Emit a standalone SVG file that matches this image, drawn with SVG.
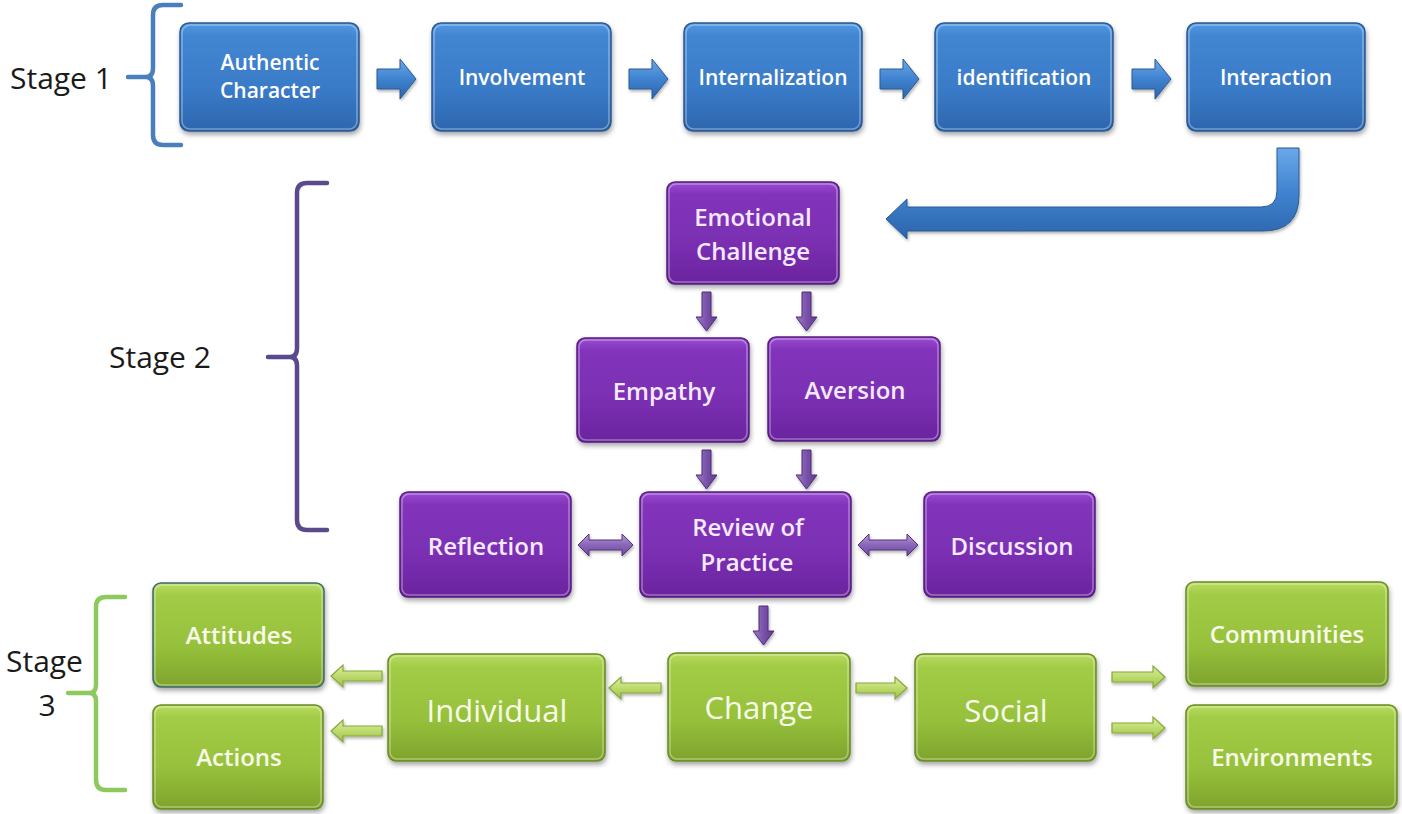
<svg xmlns="http://www.w3.org/2000/svg" width="1402" height="814" viewBox="0 0 1402 814">
<defs>
<linearGradient id="gBlue" x1="0" y1="0" x2="0" y2="1">
<stop offset="0" stop-color="#5398e0"/><stop offset="0.12" stop-color="#4286d2"/><stop offset="0.6" stop-color="#3a7bc8"/><stop offset="1" stop-color="#2d66ae"/>
</linearGradient>
<linearGradient id="gPurple" x1="0" y1="0" x2="0" y2="1">
<stop offset="0" stop-color="#9a4dd0"/><stop offset="0.12" stop-color="#8234bb"/><stop offset="0.6" stop-color="#7a2fb2"/><stop offset="1" stop-color="#6a249e"/>
</linearGradient>
<linearGradient id="gGreen" x1="0" y1="0" x2="0" y2="1">
<stop offset="0" stop-color="#b9dc62"/><stop offset="0.12" stop-color="#a2cc46"/><stop offset="0.6" stop-color="#97c13c"/><stop offset="1" stop-color="#7ea32c"/>
</linearGradient>
<linearGradient id="gBlueArr" x1="0" y1="0" x2="0" y2="1">
<stop offset="0" stop-color="#6aa8e8"/><stop offset="0.5" stop-color="#3f82cf"/><stop offset="1" stop-color="#2c64ab"/>
</linearGradient>
<linearGradient id="gPurArr" x1="0" y1="0" x2="0" y2="1">
<stop offset="0" stop-color="#b79ad9"/><stop offset="0.5" stop-color="#8a66b8"/><stop offset="1" stop-color="#6c4a9c"/>
</linearGradient>
<linearGradient id="gPurArrV" x1="0" y1="0" x2="1" y2="0">
<stop offset="0" stop-color="#9c7cc6"/><stop offset="0.5" stop-color="#7a52ab"/><stop offset="1" stop-color="#5e3c8c"/>
</linearGradient>
<linearGradient id="gGreenArr" x1="0" y1="0" x2="0" y2="1">
<stop offset="0" stop-color="#dbeea0"/><stop offset="0.5" stop-color="#bedb6e"/><stop offset="1" stop-color="#9cbf48"/>
</linearGradient>
<filter id="sh" x="-10%" y="-10%" width="130%" height="140%">
<feDropShadow dx="1" dy="3" stdDeviation="2.5" flood-color="#000" flood-opacity="0.35"/>
</filter>
<filter id="shs" x="-20%" y="-20%" width="140%" height="160%">
<feDropShadow dx="1" dy="2" stdDeviation="1.5" flood-color="#000" flood-opacity="0.3"/>
</filter>
</defs>
<style>
.blue{fill:url(#gBlue);stroke:#2a5a96;stroke-width:1.5;filter:url(#sh)}
.purple{fill:url(#gPurple);stroke:#561c80;stroke-width:1.5;filter:url(#sh)}
.green{fill:url(#gGreen);stroke:#6a8c24;stroke-width:1.5;filter:url(#sh)}
.hl{fill:none;stroke:#ffffff;stroke-opacity:0.35;stroke-width:1.5}
.tb{font-family:"Open Sans","Liberation Sans",sans-serif;font-weight:600;font-size:21px;fill:#ffffff;text-anchor:middle;dominant-baseline:central}
.tp{font-family:"Open Sans","Liberation Sans",sans-serif;font-weight:600;font-size:24px;fill:#f5e9ff;text-anchor:middle;dominant-baseline:central}
.tg{font-family:"Open Sans","Liberation Sans",sans-serif;font-weight:600;font-size:24px;fill:#f8fbea;text-anchor:middle;dominant-baseline:central}
.tgl{font-family:"Open Sans","Liberation Sans",sans-serif;font-weight:500;font-size:31px;fill:#f8fbea;text-anchor:middle;dominant-baseline:central}
.stage{font-family:"Open Sans","Liberation Sans",sans-serif;font-size:30px;fill:#1a1a1a;dominant-baseline:central}
.brk{fill:none;stroke-width:4.5;stroke-linecap:round;stroke-linejoin:round}
.ab{fill:url(#gBlueArr);stroke:#2a5a96;stroke-width:1;filter:url(#shs)}
.ap{fill:url(#gPurArr);stroke:#553080;stroke-width:1;filter:url(#shs)}
.apv{fill:url(#gPurArrV);stroke:#4e2c78;stroke-width:1;filter:url(#shs)}
.ag{fill:url(#gGreenArr);stroke:#86a83a;stroke-width:1.2;filter:url(#shs)}
</style>
<rect x="0" y="0" width="1402" height="814" fill="#ffffff"/>

<g id="stage-labels">
<text class="stage" x="10" y="77">Stage 1</text>
<text class="stage" x="109" y="356">Stage 2</text>
<text class="stage" x="6" y="660">Stage</text>
<text class="stage" x="47" y="704" text-anchor="middle">3</text>
<path class="brk" stroke="#4a7fbd" d="M181 5 H163 Q153 5 153 15 V68 Q153 77 146 77 H128 M146 77 Q153 77 153 86 V135 Q153 145 163 145 H181"/>
<path class="brk" stroke="#5a4a8c" d="M327 183 H307 Q297 183 297 193 V348 Q297 357 290 357 H268 M290 357 Q297 357 297 366 V520 Q297 530 307 530 H327"/>
<path class="brk" stroke="#8ec95e" d="M125 597 H106 Q96 597 96 607 V685 Q96 693 89 693 H68 M89 693 Q96 693 96 701 V780 Q96 790 106 790 H125"/>
</g>

<g id="connectors">
<path class="ab" d="M377 69 H400 V59 L416 79 L400 99 V89 H377 Z"/>
<path class="ab" d="M629 69 H652 V59 L668 79 L652 99 V89 H629 Z"/>
<path class="ab" d="M880 69 H903 V59 L919 79 L903 99 V89 H880 Z"/>
<path class="ab" d="M1132 69 H1155 V59 L1171 79 L1155 99 V89 H1132 Z"/>
<path class="ab" d="M1277 148 H1299 V195 Q1299 231 1263 231 H907 V239 L886 219 L907 199 V207 H1261 Q1277 207 1277 191 Z"/>
<path class="apv" d="M702 292 H711 V317 H717 L706.5 331 L696 317 H702 Z"/>
<path class="apv" d="M802 292 H811 V317 H817 L806.5 331 L796 317 H802 Z"/>
<path class="apv" d="M702 450 H711 V475 H717 L706.5 489 L696 475 H702 Z"/>
<path class="apv" d="M802 450 H811 V475 H817 L806.5 489 L796 475 H802 Z"/>
<path class="apv" d="M759 606 H768 V631 H774 L763.5 645 L753 631 H759 Z"/>
<path class="ap" d="M578 545 L589 534 V540 H622 V534 L633 545 L622 556 V550 H589 V556 Z"/>
<path class="ap" d="M858 545 L869 534 V540 H907 V534 L918 545 L907 556 V550 H869 V556 Z"/>
<path class="ag" d="M331 676 L343 665 V671 H382 V681 H343 V687 Z"/>
<path class="ag" d="M331 731 L343 720 V726 H382 V736 H343 V742 Z"/>
<path class="ag" d="M609 688 L621 677 V683 H661 V693 H621 V699 Z"/>
<path class="ag" d="M907 688 L895 677 V683 H856 V693 H895 V699 Z"/>
<path class="ag" d="M1165 677 L1153 666 V672 H1112 V682 H1153 V688 Z"/>
<path class="ag" d="M1165 728 L1153 717 V723 H1112 V733 H1153 V739 Z"/>
</g>

<g id="n-authentic"><rect class="blue" x="180" y="23" width="179" height="108" rx="9"/><rect class="hl" x="182" y="25" width="175" height="104" rx="8"/><text class="tb" x="270" y="62">Authentic</text><text class="tb" x="270" y="90">Character</text></g>
<g id="n-involvement"><rect class="blue" x="432" y="23" width="179" height="108" rx="9"/><rect class="hl" x="434" y="25" width="175" height="104" rx="8"/><text class="tb" x="522" y="77">Involvement</text></g>
<g id="n-internalization"><rect class="blue" x="684" y="23" width="178" height="108" rx="9"/><rect class="hl" x="686" y="25" width="174" height="104" rx="8"/><text class="tb" x="773" y="77">Internalization</text></g>
<g id="n-identification"><rect class="blue" x="935" y="23" width="178" height="108" rx="9"/><rect class="hl" x="937" y="25" width="174" height="104" rx="8"/><text class="tb" x="1024" y="77">identification</text></g>
<g id="n-interaction"><rect class="blue" x="1187" y="23" width="178" height="108" rx="9"/><rect class="hl" x="1189" y="25" width="174" height="104" rx="8"/><text class="tb" x="1276" y="77">Interaction</text></g>

<g id="n-emotional"><rect class="purple" x="667" y="182" width="172" height="102" rx="8"/><rect class="hl" x="669" y="184" width="168" height="98" rx="7"/><text class="tp" x="753" y="216">Emotional</text><text class="tp" x="753" y="250">Challenge</text></g>
<g id="n-empathy"><rect class="purple" x="577" y="338" width="172" height="104" rx="8"/><rect class="hl" x="579" y="340" width="168" height="100" rx="7"/><text class="tp" x="664" y="390">Empathy</text></g>
<g id="n-aversion"><rect class="purple" x="768" y="337" width="172" height="104" rx="8"/><rect class="hl" x="770" y="339" width="168" height="100" rx="7"/><text class="tp" x="855" y="389">Aversion</text></g>
<g id="n-reflection"><rect class="purple" x="400" y="492" width="171" height="105" rx="8"/><rect class="hl" x="402" y="494" width="167" height="101" rx="7"/><text class="tp" x="486" y="545">Reflection</text></g>
<g id="n-review"><rect class="purple" x="640" y="492" width="211" height="105" rx="8"/><rect class="hl" x="642" y="494" width="207" height="101" rx="7"/><text class="tp" x="748" y="526">Review of</text><text class="tp" x="747" y="561">Practice</text></g>
<g id="n-discussion"><rect class="purple" x="924" y="492" width="171" height="105" rx="8"/><rect class="hl" x="926" y="494" width="167" height="101" rx="7"/><text class="tp" x="1012" y="545">Discussion</text></g>

<g id="n-attitudes"><rect class="green" x="153" y="583" width="171" height="104" rx="8" style="stroke:#3d6a6a"/><rect class="hl" x="155" y="585" width="167" height="100" rx="7"/><text class="tg" x="239" y="634">Attitudes</text></g>
<g id="n-actions"><rect class="green" x="153" y="705" width="170" height="104" rx="8"/><rect class="hl" x="155" y="707" width="166" height="100" rx="7"/><text class="tg" x="239" y="756">Actions</text></g>
<g id="n-individual"><rect class="green" x="388" y="654" width="217" height="107" rx="8"/><rect class="hl" x="390" y="656" width="213" height="103" rx="7"/><text class="tgl" x="497" y="710">Individual</text></g>
<g id="n-change"><rect class="green" x="668" y="653" width="182" height="108" rx="8"/><rect class="hl" x="670" y="655" width="178" height="104" rx="7"/><text class="tgl" x="759" y="707">Change</text></g>
<g id="n-social"><rect class="green" x="915" y="654" width="181" height="107" rx="8"/><rect class="hl" x="917" y="656" width="177" height="103" rx="7"/><text class="tgl" x="1006" y="710">Social</text></g>
<g id="n-communities"><rect class="green" x="1186" y="582" width="202" height="104" rx="8"/><rect class="hl" x="1188" y="584" width="198" height="100" rx="7"/><text class="tg" x="1287" y="633">Communities</text></g>
<g id="n-environments"><rect class="green" x="1186" y="705" width="211" height="104" rx="8"/><rect class="hl" x="1188" y="707" width="207" height="100" rx="7"/><text class="tg" x="1292" y="756">Environments</text></g>
</svg>
